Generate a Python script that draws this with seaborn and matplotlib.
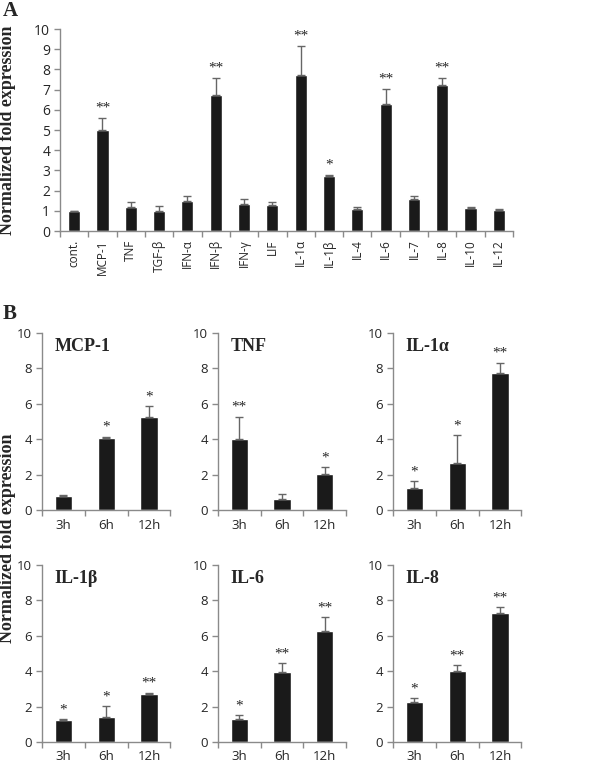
import numpy as np
import pandas as pd
import seaborn as sns
import matplotlib.pyplot as plt
from matplotlib.ticker import FixedLocator

# panel A
genes = ['cont.', 'MCP-1', 'TNF', 'TGF-β', 'IFN-α', 'IFN-β', 'IFN-γ', 'LIF',
         'IL-1α', 'IL-1β', 'IL-4', 'IL-6', 'IL-7', 'IL-8', 'IL-10', 'IL-12']
fold_a = [1.0, 5.0, 1.2, 0.97, 1.48, 6.76, 1.35, 1.29,
          7.74, 2.73, 1.08, 6.27, 1.57, 7.24, 1.12, 1.03]
upper_a = [1.0, 5.62, 1.44, 1.24, 1.73, 7.6, 1.58, 1.45,
           9.18, 2.78, 1.21, 7.04, 1.75, 7.6, 1.18, 1.1]
stars_a = ['', '**', '', '', '', '**', '', '', '**', '*', '', '**', '', '**', '', '']

# panel B
times = ['3h', '6h', '12h']
panel_names = ['MCP-1', 'TNF', 'IL-1α', 'IL-1β', 'IL-6', 'IL-8']
fold_b = [[0.78, 4.07, 5.28],
          [4.02, 0.63, 2.02],
          [1.28, 2.66, 7.75],
          [1.22, 1.42, 2.72],
          [1.31, 3.93, 6.25],
          [2.27, 4.03, 7.25]]
upper_b = [[0.85, 4.15, 5.88],
           [5.28, 0.9, 2.45],
           [1.66, 4.22, 8.32],
           [1.31, 2.02, 2.79],
           [1.53, 4.43, 7.05],
           [2.46, 4.35, 7.62]]
stars_b = [['', '*', '*'],
           ['**', '', '*'],
           ['*', '*', '**'],
           ['*', '*', '**'],
           ['*', '**', '**'],
           ['*', '**', '**']]

sns.set_style('white')
plt.rcParams['font.family'] = ['Open Sans', 'DejaVu Sans']

BAR = '#1a1a1a'
GREY = '#8a8a8a'
SERIF = 'Liberation Serif'


def draw_bars(ax, labels, vals, tops, stars, width, star_size, cap):
    df = pd.DataFrame({'name': labels, 'val': vals})
    sns.barplot(data=df, x='name', y='val', color=BAR, saturation=1,
                width=width, errorbar=None, ax=ax)
    x = np.arange(len(labels))
    vals = np.array(vals)
    err = np.array(tops) - vals
    ax.errorbar(x, vals, yerr=[np.zeros_like(err), err], fmt='none',
                ecolor='#666666', elinewidth=1, capsize=cap, capthick=1)
    for xi, t, s in zip(x, tops, stars):
        if s:
            ax.text(xi, t + 0.15, s, ha='center', va='bottom',
                    fontsize=star_size, family=SERIF)
    ax.set_xlim(-0.5, len(labels) - 0.5)
    ax.set_ylim(0, 10)
    ax.set_xlabel('')
    ax.set_ylabel('')
    sns.despine(ax=ax)
    for sp in ['left', 'bottom']:
        ax.spines[sp].set_color(GREY)
        ax.spines[sp].set_linewidth(1)
    ax.xaxis.set_minor_locator(FixedLocator(np.arange(len(labels) + 1) - 0.5))
    ax.tick_params(axis='x', which='major', length=0, pad=6)
    ax.tick_params(axis='x', which='minor', length=4, color=GREY, width=1,
                   direction='out', bottom=True)
    ax.tick_params(axis='y', length=4, color=GREY, width=1, direction='out',
                   left=True, pad=3)


fig = plt.figure(figsize=(6, 7.65), dpi=100)

axA = fig.add_axes([0.1, 0.698, 0.755, 0.264])
draw_bars(axA, genes, fold_a, upper_a, stars_a, 0.43, 11, 3)
axA.set_yticks(range(0, 11))
axA.tick_params(axis='y', labelsize=10)
axA.tick_params(axis='x', labelsize=8.5, rotation=90)

lefts = [0.07, 0.363, 0.655]
bottoms = [0.333, 0.030]
for i, name in enumerate(panel_names):
    r, c = divmod(i, 3)
    ax = fig.add_axes([lefts[c], bottoms[r], 0.214, 0.232])
    draw_bars(ax, times, fold_b[i], upper_b[i], stars_b[i], 0.4, 11, 3)
    ax.set_yticks(range(0, 11, 2))
    ax.tick_params(axis='both', labelsize=9.5)
    ax.text(0.1, 0.92, name, transform=ax.transAxes, fontsize=13,
            fontweight='bold', family=SERIF, va='center', ha='left')

fig.text(0.004, 0.985, 'A', fontsize=15, fontweight='bold', family=SERIF, va='center')
fig.text(0.004, 0.59, 'B', fontsize=15, fontweight='bold', family=SERIF, va='center')
fig.text(0.013, 0.83, 'Normalized fold expression', rotation=90, fontsize=13,
         fontweight='bold', family=SERIF, ha='center', va='center')
fig.text(0.013, 0.297, 'Normalized fold expression', rotation=90, fontsize=13,
         fontweight='bold', family=SERIF, ha='center', va='center')

fig.savefig('out.png', dpi=100)
